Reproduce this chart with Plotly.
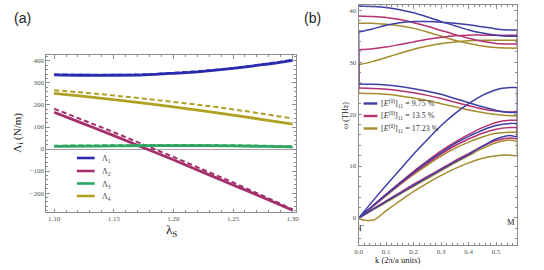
import plotly.graph_objects as go

# ---------------- Panel (a) data ----------------
lam = [1.10, 1.125, 1.15, 1.175, 1.20, 1.225, 1.25, 1.275, 1.30]
L1_solid = [337, 335, 335, 337, 344, 353, 366, 383, 403]
L1_dash = [339, 337, 337, 339, 346, 355, 368, 385, 405]
L2_solid = [167, 114, 61, 6, -49, -106, -163, -220, -278]
L2_dash = [183, 130, 76, 20, -36, -94, -152, -212, -274]
L3_solid = [12, 13, 14, 15, 15, 15, 14, 12, 10]
L3_dash = [15, 16, 17, 18, 18, 18, 17, 15, 12]
L4_solid = [253, 239, 224, 208, 191, 173, 154, 134, 113]
L4_dash = [267, 256, 243, 229, 214, 198, 180, 160, 139]
names_a = ["Λ<sub>1</sub>", "Λ<sub>2</sub>", "Λ<sub>3</sub>", "Λ<sub>4</sub>"]

# ---------------- Panel (b) data ----------------
K = [0, 0.05, 0.1, 0.15, 0.2, 0.25, 0.3, 0.35, 0.4, 0.45, 0.5, 0.55, 0.577]
K_low = [0, 0.015, 0.055, 0.1, 0.15, 0.2, 0.25, 0.3, 0.35, 0.4, 0.45, 0.5, 0.55, 0.577]

b_top = [40.8, 40.7, 40.5, 40.1, 39.5, 38.7, 37.8, 37.0, 36.2, 35.6, 35.2, 35.0, 35.0]
b_up2 = [35.8, 36.4, 37.1, 37.6, 37.8, 37.8, 37.7, 37.5, 37.2, 36.8, 36.4, 36.2, 36.2]
b_mid = [25.8, 25.75, 25.6, 25.3, 24.9, 24.4, 23.8, 23.0, 22.2, 21.4, 20.7, 20.3, 20.3]
b_ac1 = [0, 3.2, 6.3, 9.3, 12.3, 15.1, 17.8, 20.1, 22.0, 23.6, 24.7, 25.1, 25.1]
b_ac2 = [0, 2.3, 4.5, 6.7, 8.8, 10.8, 12.6, 14.3, 15.7, 16.9, 17.8, 18.2, 18.2]
b_ac3 = [0, 1.6, 3.2, 4.7, 6.3, 7.8, 9.3, 10.8, 12.2, 13.8, 15.2, 15.9, 15.6]

m_top = [38.9, 38.8, 38.6, 38.2, 37.6, 36.9, 36.1, 35.3, 34.6, 34.0, 33.6, 33.5, 33.5]
m_up2 = [32.4, 32.6, 32.9, 33.4, 33.9, 34.4, 34.8, 35.1, 35.2, 35.2, 35.2, 35.2, 35.2]
m_mid = [25.0, 24.95, 24.8, 24.5, 24.1, 23.6, 23.0, 22.3, 21.6, 21.0, 20.6, 20.4, 20.5]
m_ac2a = [0, 2.3, 4.6, 6.8, 9.0, 11.0, 12.9, 14.6, 16.1, 17.4, 18.4, 18.8, 18.8]
m_ac2b = [0, 2.2, 4.4, 6.5, 8.6, 10.5, 12.3, 13.9, 15.2, 16.3, 17.1, 17.4, 17.4]
m_ac3 = [0, 1.65, 3.3, 4.9, 6.5, 8.0, 9.5, 11.0, 12.4, 13.8, 14.9, 15.4, 15.2]

o_top = [37.5, 37.5, 37.3, 37.0, 36.5, 35.8, 35.0, 34.2, 33.6, 33.1, 32.8, 32.7, 32.7]
o_up2 = [29.5, 30.1, 30.9, 31.7, 32.5, 33.1, 33.6, 33.9, 34.1, 34.2, 34.2, 34.2, 34.2]
o_mid = [24.0, 23.95, 23.8, 23.5, 23.1, 22.6, 22.0, 21.4, 20.8, 20.3, 19.9, 19.7, 19.7]
o_ac2 = [0, 2.15, 4.3, 6.4, 8.4, 10.2, 11.9, 13.4, 14.6, 15.6, 16.3, 16.5, 16.5]
o_ac3 = [0, 1.5, 3.0, 4.6, 6.1, 7.6, 9.1, 10.6, 12.0, 13.4, 14.5, 15.0, 14.7]
o_ac4 = [0, -0.4, -0.4, 1.4, 3.3, 5.1, 6.7, 8.2, 9.5, 10.6, 11.5, 12.0, 12.1, 12.0]

names_b = ["[<i>E</i><sup>(0)</sup>]<sub>11</sub> = 9.75 %",
           "[<i>E</i><sup>(0)</sup>]<sub>11</sub> = 13.5 %",
           "[<i>E</i><sup>(0)</sup>]<sub>11</sub> = 17.23 %"]

# ---------------- styling ----------------
ca = ["#2b2bb0", "#a3306c", "#2fa463", "#b0a024"]
cb = ["#3e3ea6", "#b3326f", "#a58c2c"]
SERIF = "Liberation Serif"
GRAY = "#8c8c8c"

fig = go.Figure()

# Panel (a) lines
pairs = [(L1_solid, L1_dash), (L2_solid, L2_dash), (L3_solid, L3_dash), (L4_solid, L4_dash)]
for i, (s, d) in enumerate(pairs):
    fig.add_trace(go.Scatter(x=lam, y=s, mode="lines", line=dict(color=ca[i], width=2.8, shape="spline"),
                             xaxis="x", yaxis="y", showlegend=False))
    fig.add_trace(go.Scatter(x=lam, y=d, mode="lines",
                             line=dict(color=ca[i], width=2.0, dash="5px,3px", shape="spline"),
                             xaxis="x", yaxis="y", showlegend=False))

# Panel (b) lines
def seg(xs, ys, color):
    fig.add_trace(go.Scatter(x=xs, y=ys, mode="lines", line=dict(color=color, width=1.5, shape="spline", smoothing=0.6),
                             xaxis="x2", yaxis="y2", showlegend=False))

def vert(kv, y1, y2, color):
    fig.add_trace(go.Scatter(x=[kv, kv], y=[y1, y2], mode="lines", line=dict(color=color, width=1.5),
                             xaxis="x2", yaxis="y2", showlegend=False))

kM = K[-1]
# olive (drawn first, underneath)
for band in [o_top, o_up2, o_mid, o_ac2, o_ac3]:
    seg(K, band, cb[2])
seg(K_low, o_ac4, cb[2])
vert(0, o_up2[0], o_mid[0], cb[2])
vert(kM, o_up2[-1], o_top[-1], cb[2])
vert(kM, o_mid[-1], o_ac2[-1], cb[2])
vert(kM, o_ac3[-1], o_ac4[-1], cb[2])
# magenta
for band in [m_top, m_up2, m_mid, m_ac2a, m_ac2b, m_ac3]:
    seg(K, band, cb[1])
vert(0, m_up2[0], m_mid[0], cb[1])
vert(kM, m_up2[-1], m_top[-1], cb[1])
vert(kM, m_mid[-1], m_ac2a[-1], cb[1])
vert(kM, m_ac2b[-1], m_ac3[-1], cb[1])
# blue
for band in [b_top, b_up2, b_mid, b_ac1, b_ac2, b_ac3]:
    seg(K, band, cb[0])
vert(0, b_up2[0], b_mid[0], cb[0])
vert(kM, b_up2[-1], b_top[-1], cb[0])
vert(kM, b_ac1[-1], b_mid[-1], cb[0])
vert(kM, b_ac2[-1], b_ac3[-1], cb[0])

tickfont = dict(family=SERIF, size=7, color="#555555")
axis_common = dict(showline=True, linecolor=GRAY, linewidth=1, mirror="ticks", ticks="inside",
                   tickcolor=GRAY, ticklen=3.5, showgrid=False, tickfont=tickfont, zeroline=False)

W, H = 544, 270
fig.update_layout(
    width=W, height=H, margin=dict(l=0, r=0, t=0, b=0),
    paper_bgcolor="white", plot_bgcolor="white",
    xaxis=dict(domain=[43 / W, 296 / W], range=[1.0935, 1.3025], dtick=0.05, tick0=1.10, tickformat=".2f",
               minor=dict(dtick=0.01, ticklen=2, tickcolor=GRAY, ticks="inside"), anchor="y", **axis_common),
    yaxis=dict(domain=[1 - 212 / H, 1 - 55 / H], range=[-286, 427], dtick=100,
               minor=dict(dtick=20, ticklen=2, tickcolor=GRAY, ticks="inside"), anchor="x",
               **{k: v for k, v in axis_common.items() if k != "zeroline"},
               zeroline=True, zerolinecolor="#a0a0a0", zerolinewidth=1),
    xaxis2=dict(domain=[360 / W, 521 / W], range=[0, 0.577], dtick=0.1, tickformat=".1f",
                minor=dict(dtick=0.02, ticklen=2, tickcolor=GRAY, ticks="inside"), anchor="y2", **axis_common),
    yaxis2=dict(domain=[1 - 245 / H, 1 - 5 / H], range=[-5.2, 41.0], dtick=10,
                minor=dict(dtick=2, ticklen=2, tickcolor=GRAY, ticks="inside"), anchor="x2", **axis_common),
    showlegend=False,
)

ann = []
def txt(x, y, s, size, family=SERIF, color="#222222", angle=0, xanchor="center"):
    ann.append(dict(x=x / W, y=1 - y / H, xref="paper", yref="paper", text=s, showarrow=False,
                    font=dict(family=family, size=size, color=color), textangle=angle,
                    xanchor=xanchor, yanchor="middle"))

txt(19, 18, "(a)", 14, family="Liberation Sans")
txt(313, 18, "(b)", 14, family="Liberation Sans")
txt(170, 230, "λ<sub>S</sub>", 13)
txt(14, 133, "Λ<sub>i</sub> (N/m)", 11, angle=-90)
txt(346, 115, "ω (THz)", 8, angle=-90)
txt(400, 260, "k (2π/a units)", 8.5)
txt(363, 228, "Γ", 8.5)
txt(515, 222, "M", 8.5)

# Legend (a)
shapes = []
leg_a_y = [158, 171, 183.5, 196]
for i in range(4):
    shapes.append(dict(type="line", xref="paper", yref="paper", x0=74 / W, x1=92 / W,
                       y0=1 - leg_a_y[i] / H, y1=1 - leg_a_y[i] / H, line=dict(color=ca[i], width=2.6)))
    txt(97, leg_a_y[i] + 1, names_a[i], 8, xanchor="left", color="#444444")

# Legend (b)
leg_b_y = [103.5, 116, 128.5]
for i in range(3):
    shapes.append(dict(type="line", xref="paper", yref="paper", x0=365 / W, x1=379 / W,
                       y0=1 - leg_b_y[i] / H, y1=1 - leg_b_y[i] / H, line=dict(color=cb[i], width=2.4)))
    txt(381, leg_b_y[i], names_b[i], 8, xanchor="left", color="#333333")

fig.update_layout(annotations=ann, shapes=shapes)
fig.write_html("out.html", config={"displayModeBar": False},
               post_script="document.body.style.margin='0';document.body.style.padding='0';")
